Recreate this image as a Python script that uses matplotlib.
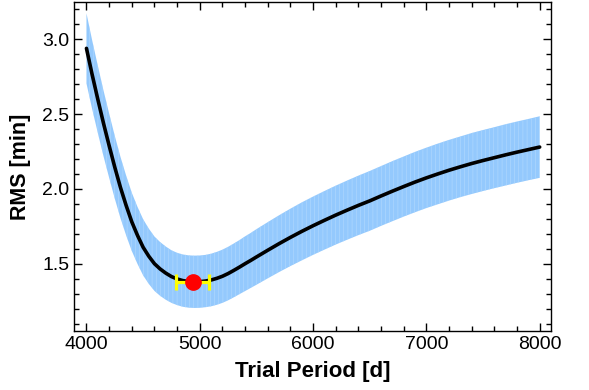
import matplotlib
matplotlib.use("Agg")
import matplotlib.pyplot as plt
from matplotlib.ticker import MultipleLocator

plt.rcParams['font.family'] = ['Liberation Sans', 'DejaVu Sans']
plt.rcParams['hatch.linewidth'] = 0.4

periods = [4000, 4050, 4100, 4150, 4200, 4250, 4300, 4350, 4400, 4450,
           4500, 4550, 4600, 4650, 4700, 4750, 4800, 4850, 4900, 4950,
           5000, 5050, 5100, 5150, 5200, 5250, 5300, 5350, 5400, 5450, 5500,
           5600, 5700, 5800, 5900, 6000, 6100, 6200, 6300, 6400, 6500,
           6600, 6700, 6800, 6900, 7000, 7100, 7200, 7300, 7400, 7500,
           7600, 7700, 7800, 7900, 8000]
rms = [2.94, 2.765, 2.60, 2.44, 2.29, 2.145, 2.01, 1.89, 1.78, 1.69,
       1.61, 1.55, 1.50, 1.465, 1.437, 1.414, 1.398, 1.387, 1.381, 1.379,
       1.380, 1.384, 1.391, 1.402, 1.416, 1.434, 1.455, 1.477, 1.50, 1.522, 1.545,
       1.59, 1.634, 1.676, 1.716, 1.754, 1.79, 1.825, 1.858, 1.89, 1.92,
       1.953, 1.985, 2.016, 2.046, 2.074, 2.10, 2.125, 2.148, 2.17, 2.19,
       2.209, 2.228, 2.246, 2.263, 2.28]
rms_err = [0.235, 0.230, 0.225, 0.220, 0.215, 0.210, 0.205, 0.200, 0.195, 0.191,
           0.188, 0.185, 0.182, 0.180, 0.178, 0.176, 0.175, 0.175, 0.175, 0.175,
           0.175, 0.175, 0.176, 0.177, 0.178, 0.179, 0.180, 0.181, 0.183, 0.184, 0.186,
           0.188, 0.190, 0.192, 0.194, 0.195, 0.196, 0.197, 0.198, 0.199, 0.200,
           0.200, 0.201, 0.201, 0.202, 0.202, 0.203, 0.203, 0.203, 0.204, 0.204,
           0.204, 0.205, 0.205, 0.205, 0.206]

best_period = [4936]
best_rms = [1.378]
best_err = [143]

fig = plt.figure(figsize=(5.89, 3.90), dpi=100)
ax = fig.add_axes([74/589, 1-331/390, (551-74)/589, (331-2)/390])

lower = [r - e for r, e in zip(rms, rms_err)]
upper = [r + e for r, e in zip(rms, rms_err)]
ax.fill_between(periods, lower, upper, facecolor='#94c9fd', edgecolor='#b3dafd',
                hatch='||||', linewidth=0, zorder=1)
ax.plot(periods, rms, color='black', lw=2.6, zorder=2,
        solid_joinstyle='round', solid_capstyle='round')
ax.errorbar(best_period, best_rms, xerr=best_err, fmt='none', ecolor='#ffff00',
            elinewidth=2.3, capsize=5.5, capthick=2.3, zorder=3)
ax.plot(best_period, best_rms, 'o', color='#ff0000', ms=11, mec='#ff0000', zorder=4)

ax.set_xlim(3890, 8100)
ax.set_ylim(1.05, 3.25)
ax.xaxis.set_major_locator(MultipleLocator(1000))
ax.xaxis.set_minor_locator(MultipleLocator(200))
ax.yaxis.set_major_locator(MultipleLocator(0.5))
ax.yaxis.set_minor_locator(MultipleLocator(0.1))
ax.tick_params(which='both', direction='in', top=True, right=True, labelsize=14, width=1.0)
ax.tick_params(which='major', length=6)
ax.tick_params(which='minor', length=3.5)
for s in ax.spines.values():
    s.set_linewidth(1.0)

ax.set_xlabel('Trial Period [d]', fontsize=16, fontweight='bold', labelpad=6)
ax.set_ylabel('RMS [min]', fontsize=15.5, fontweight='bold', labelpad=8)

fig.savefig('out.png', dpi=100)
